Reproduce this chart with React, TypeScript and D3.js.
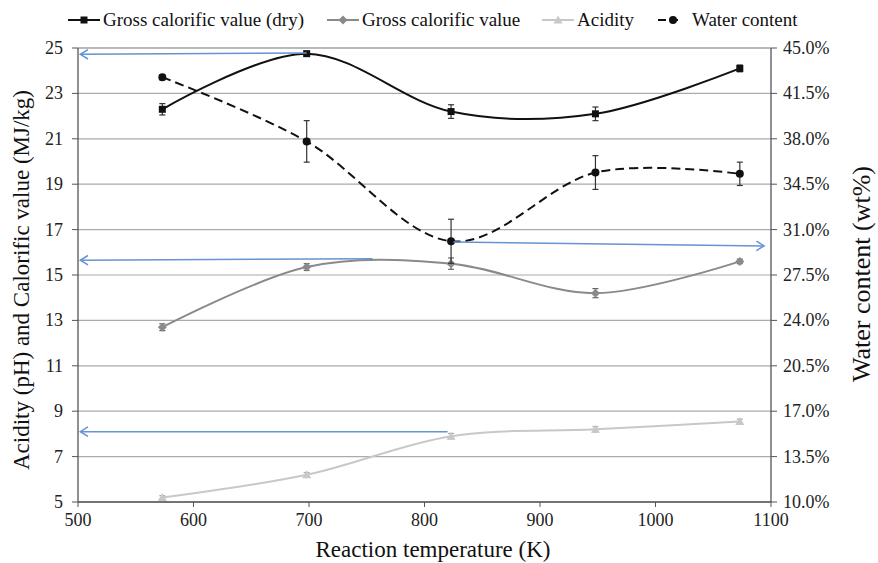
import React from "react";
import * as d3 from "d3";

const temps = [573, 698, 823, 948, 1073];
const grossDry = [22.3, 24.75, 22.2, 22.1, 24.1];
const grossDryErr = [0.25, 0.1, 0.3, 0.3, 0.15];
const gross = [12.7, 15.35, 15.5, 14.2, 15.6];
const grossErr = [0.15, 0.15, 0.25, 0.2, 0.1];
const acidity = [5.2, 6.2, 7.9, 8.2, 8.55];
const acidityErr = [0.08, 0.1, 0.12, 0.12, 0.1];
const water = [42.75, 37.8, 30.1, 35.4, 35.3];
const waterErr = [0.2, 1.6, 1.7, 1.3, 0.9];

const xTicks = [500, 600, 700, 800, 900, 1000, 1100];
const leftTicks = [5, 7, 9, 11, 13, 15, 17, 19, 21, 23, 25];
const rightTicks = [10, 13.5, 17, 20.5, 24, 27.5, 31, 34.5, 38, 41.5, 45];

const arrows = [
  { from: [698, 24.78], to: [502, 24.72] },
  { from: [755, 15.72], to: [502, 15.65] },
  { from: [820, 8.1], to: [502, 8.1] },
  { from: [825, 16.45], to: [1094, 16.28] },
];

const legendItems = [
  { label: "Gross calorific value (dry)", color: "#111", marker: "square", dash: "", x: 68 },
  { label: "Gross calorific value", color: "#8a8a8a", marker: "diamond", dash: "", x: 327 },
  { label: "Acidity", color: "#c8c8c8", marker: "triangle", dash: "", x: 542 },
  { label: "Water content", color: "#111", marker: "circle", dash: "8,4", x: 658 },
];

const FONT = "Liberation Serif";

function Marker({ type, x, y, color }: { type: string; x: number; y: number; color: string }) {
  if (type === "square") return <rect x={x - 3.5} y={y - 3.5} width={7} height={7} fill={color} />;
  if (type === "diamond")
    return <path d={`M${x},${y - 4.5}L${x + 4.5},${y}L${x},${y + 4.5}L${x - 4.5},${y}Z`} fill={color} />;
  if (type === "triangle")
    return <path d={`M${x},${y - 4.5}L${x + 4.5},${y + 3.5}L${x - 4.5},${y + 3.5}Z`} fill={color} />;
  return <circle cx={x} cy={y} r={4} fill={color} />;
}

function T(props: any) {
  const { children, ...rest } = props;
  return (
    <text fontFamily={FONT} style={{ fontFamily: FONT }} {...rest}>
      {children}
    </text>
  );
}

export default function App() {
  const W = 878, H = 563;
  const x = d3.scaleLinear().domain([500, 1100]).range([78, 771]);
  const yL = d3.scaleLinear().domain([5, 25]).range([502, 48]);
  const yR = d3.scaleLinear().domain([10, 45]).range([502, 48]);
  const curve = d3.curveCardinal.tension(0);

  const series = [
    { vals: grossDry, err: grossDryErr, y: yL, color: "#111", errColor: "#333", marker: "square", dash: "", width: 2 },
    { vals: gross, err: grossErr, y: yL, color: "#8a8a8a", errColor: "#666", marker: "diamond", dash: "", width: 2 },
    { vals: acidity, err: acidityErr, y: yL, color: "#c8c8c8", errColor: "#aaa", marker: "triangle", dash: "", width: 2 },
    { vals: water, err: waterErr, y: yR, color: "#111", errColor: "#333", marker: "circle", dash: "9,5", width: 2 },
  ];

  const blue = "#6593d3";

  return (
    <div style={{ fontFamily: FONT }}>
      <svg width={W} height={H} fontFamily={FONT} style={{ display: "block", position: "absolute", left: 0, top: 0 }}>
        <rect width={W} height={H} fill="#fff" />
        {leftTicks.map((t) => (
          <line key={"g" + t} x1={78} x2={771} y1={yL(t)} y2={yL(t)} stroke={t === 25 ? "#777" : "#aaa"} strokeWidth={1.2} />
        ))}
        <line x1={78} x2={78} y1={48} y2={502} stroke="#555" strokeWidth={1.3} />
        <line x1={771} x2={771} y1={48} y2={502} stroke="#555" strokeWidth={1.3} />
        <line x1={78} x2={771} y1={502} y2={502} stroke="#555" strokeWidth={1.3} />
        {leftTicks.map((t) => (
          <g key={"lt" + t}>
            <line x1={72} x2={78} y1={yL(t)} y2={yL(t)} stroke="#555" />
            <T x={63} y={yL(t) + 6} textAnchor="end" fontSize={18} fill="#222">{String(t)}</T>
          </g>
        ))}
        {rightTicks.map((t) => (
          <g key={"rt" + t}>
            <line x1={771} x2={777} y1={yR(t)} y2={yR(t)} stroke="#555" />
            <T x={783} y={yR(t) + 6} textAnchor="start" fontSize={18} fill="#222">{t.toFixed(1) + "%"}</T>
          </g>
        ))}
        {xTicks.map((t) => (
          <g key={"xt" + t}>
            <line x1={x(t)} x2={x(t)} y1={502} y2={507} stroke="#555" />
            <T x={x(t)} y={526} textAnchor="middle" fontSize={18} fill="#222">{String(t)}</T>
          </g>
        ))}
        <T x={433} y={557} textAnchor="middle" fontSize={23} fill="#111">Reaction temperature (K)</T>
        <T transform={`translate(29,280) rotate(-90)`} textAnchor="middle" fontSize={23} fill="#111">
          Acidity (pH) and Calorific value (MJ/kg)
        </T>
        <T transform={`translate(870,274) rotate(-90)`} textAnchor="middle" fontSize={26} fill="#111">
          Water content (wt%)
        </T>

        {series.map((s, i) => {
          const line = d3
            .line<number>()
            .x((_, j) => x(temps[j]))
            .y((v) => s.y(v))
            .curve(curve);
          return (
            <g key={"s" + i}>
              <path d={line(s.vals) || ""} fill="none" stroke={s.color} strokeWidth={s.width} strokeDasharray={s.dash} />
              {s.vals.map((v, j) => {
                const cx = x(temps[j]);
                const y1 = s.y(v - s.err[j]);
                const y2 = s.y(v + s.err[j]);
                return (
                  <g key={j}>
                    <line x1={cx} x2={cx} y1={y1} y2={y2} stroke={s.errColor} strokeWidth={1.2} />
                    <line x1={cx - 3} x2={cx + 3} y1={y1} y2={y1} stroke={s.errColor} strokeWidth={1.2} />
                    <line x1={cx - 3} x2={cx + 3} y1={y2} y2={y2} stroke={s.errColor} strokeWidth={1.2} />
                    <Marker type={s.marker} x={cx} y={s.y(v)} color={s.color} />
                  </g>
                );
              })}
            </g>
          );
        })}

        {arrows.map((a, i) => {
          const x1 = x(a.from[0]), y1 = yL(a.from[1]);
          const x2 = x(a.to[0]), y2 = yL(a.to[1]);
          const ang = Math.atan2(y2 - y1, x2 - x1);
          const L = 9, sp = 0.55;
          const p1 = [x2 - L * Math.cos(ang - sp), y2 - L * Math.sin(ang - sp)];
          const p2 = [x2 - L * Math.cos(ang + sp), y2 - L * Math.sin(ang + sp)];
          return (
            <g key={"a" + i} stroke={blue} strokeWidth={1.5} fill="none">
              <line x1={x1} y1={y1} x2={x2} y2={y2} />
              <path d={`M${p1[0]},${p1[1]}L${x2},${y2}L${p2[0]},${p2[1]}`} />
            </g>
          );
        })}

        {legendItems.map((l, i) => (
          <g key={"l" + i}>
            <line x1={l.x} x2={l.x + (l.dash ? 24 : 32)} y1={20} y2={20} stroke={l.color} strokeWidth={2} strokeDasharray={l.dash} />
            <Marker type={l.marker} x={l.x + (l.dash ? 15 : 16)} y={20} color={l.color} />
            <T x={l.x + (l.dash ? 34 : 35)} y={26} fontSize={19} fill="#111">{l.label}</T>
          </g>
        ))}
      </svg>
    </div>
  );
}
